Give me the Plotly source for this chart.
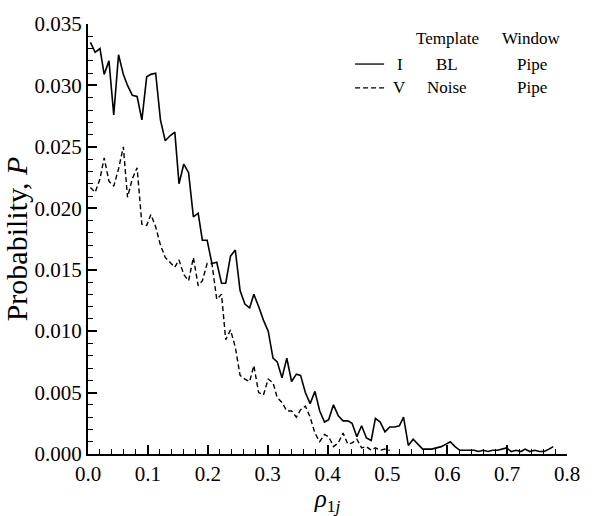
import plotly.graph_objects as go

# x positions (rho_1j bin centres)
rho = [0.004, 0.012, 0.020, 0.027, 0.035, 0.043, 0.051, 0.059, 0.066, 0.074,
       0.082, 0.090, 0.098, 0.105, 0.113, 0.121, 0.129, 0.137, 0.145, 0.152,
       0.160, 0.168, 0.176, 0.184, 0.191, 0.199, 0.207, 0.215, 0.223, 0.230,
       0.238, 0.246, 0.254, 0.262, 0.270, 0.277, 0.285, 0.293, 0.301, 0.309,
       0.316, 0.324, 0.332, 0.340, 0.348, 0.355, 0.363, 0.371, 0.379, 0.387,
       0.395, 0.402, 0.410, 0.418, 0.426, 0.434, 0.441, 0.449, 0.457, 0.465,
       0.473, 0.480, 0.488, 0.496, 0.504, 0.512, 0.520, 0.527, 0.535, 0.543,
       0.551, 0.559, 0.566, 0.574, 0.582, 0.590, 0.598, 0.605, 0.613, 0.621,
       0.629, 0.637, 0.645, 0.652, 0.660, 0.668, 0.676, 0.684, 0.691, 0.699,
       0.707, 0.715, 0.723, 0.730, 0.738, 0.746, 0.754, 0.762, 0.770, 0.777]

# Series I: Template BL, Window Pipe (solid)
p_bl = [0.0335, 0.0327, 0.0330, 0.0309, 0.0320, 0.0276, 0.0325, 0.0309, 0.0300, 0.0292,
        0.0291, 0.0272, 0.0307, 0.0309, 0.0310, 0.0272, 0.0255, 0.0259, 0.0262, 0.0220,
        0.0236, 0.0229, 0.0193, 0.0196, 0.0174, 0.0174, 0.0155, 0.0156, 0.0139, 0.0139,
        0.0161, 0.0166, 0.0133, 0.0122, 0.0119, 0.0130, 0.0120, 0.0109, 0.0100, 0.0078,
        0.0075, 0.0062, 0.0078, 0.0059, 0.0065, 0.0064, 0.0050, 0.0041, 0.0051, 0.0035,
        0.0026, 0.0028, 0.0040, 0.0031, 0.0027, 0.0027, 0.0025, 0.0014, 0.0023, 0.0013,
        0.0011, 0.0029, 0.0026, 0.0018, 0.0022, 0.0022, 0.0023, 0.0030, 0.0007, 0.0012,
        0.0008, 0.0004, 0.0004, 0.0004, 0.0005, 0.0006, 0.0008, 0.0010, 0.0006, 0.0003,
        0.0003, 0.0003, 0.0003, 0.0002, 0.0003, 0.0002, 0.0003, 0.0003, 0.0004, 0.0005,
        0.0002, 0.0003, 0.0002, 0.0004, 0.0002, 0.0003, 0.0002, 0.0002, 0.0004, 0.0006]

# Series V: Template Noise, Window Pipe (dashed)
p_noise = [0.0217, 0.0213, 0.0224, 0.0241, 0.0222, 0.0218, 0.0232, 0.0250, 0.0209, 0.0224,
           0.0233, 0.0187, 0.0186, 0.0195, 0.0185, 0.0170, 0.0160, 0.0156, 0.0152, 0.0158,
           0.0146, 0.0141, 0.0160, 0.0137, 0.0141, 0.0155, 0.0155, 0.0126, 0.0130, 0.0093,
           0.0101, 0.0087, 0.0064, 0.0061, 0.0059, 0.0072, 0.0050, 0.0048, 0.0061, 0.0058,
           0.0046, 0.0042, 0.0035, 0.0035, 0.0030, 0.0036, 0.0039, 0.0030, 0.0017, 0.0010,
           0.0016, 0.0014, 0.0006, 0.0009, 0.0017, 0.0008, 0.0009, 0.0012, 0.0005, 0.0006,
           0.0003, 0.0005, 0.0003, 0.0004, 0.0003]

x_ticks = [0.0, 0.1, 0.2, 0.3, 0.4, 0.5, 0.6, 0.7, 0.8]
y_ticks = [0.000, 0.005, 0.010, 0.015, 0.020, 0.025, 0.030, 0.035]

FONT = "Liberation Serif"
W, H = 592, 516
ML, MR, MT, MB = 84, 13, 15, 50

fig = go.Figure()
fig.add_trace(go.Scatter(x=rho, y=p_bl, mode="lines",
                         line=dict(color="black", width=1.6), showlegend=False))
fig.add_trace(go.Scatter(x=rho[:len(p_noise)], y=p_noise, mode="lines",
                         line=dict(color="black", width=1.4, dash="5px,3px"),
                         showlegend=False))

axis_common = dict(showline=True, linecolor="black", linewidth=2, mirror=False,
                   ticks="inside", tickcolor="black", tickwidth=2, ticklen=9,
                   showgrid=False, zeroline=False, ticklabeloverflow="allow",
                   tickfont=dict(family=FONT, size=21, color="black"))

fig.update_xaxes(range=[0, 0.8], tickvals=x_ticks, tickformat=".1f",
                 minor=dict(dtick=0.02, ticks="inside", ticklen=5, tickwidth=1,
                            tickcolor="black", showgrid=False),
                 title=dict(text="<i>ρ</i><sub>1<i>j</i></sub>",
                            font=dict(family=FONT, size=25, color="black"), standoff=0),
                 ticklabelstandoff=0,
                 **axis_common)
fig.update_yaxes(range=[0, 0.035], tickvals=y_ticks, tickformat=".3f",
                 minor=dict(dtick=0.001, ticks="inside", ticklen=5, tickwidth=1,
                            tickcolor="black", showgrid=False),
                 title=dict(text="Probability, <i>P</i>",
                            font=dict(family=FONT, size=30, color="black"), standoff=2),
                 **axis_common)

# legend table (top right), positioned in page pixels
lf = dict(family=FONT, size=17, color="black")
PW, PH = W - ML - MR, H - MT - MB

def px_to_paper(px, py):
    return (px - ML) / PW, (H - MB - py) / PH

def add_txt(cx, cy, t):
    x, y = px_to_paper(cx, cy)
    fig.add_annotation(x=x, y=y, xref="paper", yref="paper", text=t, showarrow=False,
                       font=lf, xanchor="center", yanchor="middle")

hdr_y, row1_y, row2_y = 30, 57, 82
add_txt(455, hdr_y, "Template")
add_txt(542, hdr_y, "Window")
for (lab, tmpl, win, yy) in [("I", "BL", "Pipe", row1_y), ("V", "Noise", "Pipe", row2_y)]:
    add_txt(406, yy, lab)
    add_txt(455, yy, tmpl)
    add_txt(543, yy, win)

x0, y1 = px_to_paper(360, row1_y)
x1, _ = px_to_paper(390, row1_y)
_, y2 = px_to_paper(360, row2_y)
fig.add_shape(type="line", xref="paper", yref="paper", x0=x0, x1=x1, y0=y1, y1=y1,
              line=dict(color="black", width=1.3))
fig.add_shape(type="line", xref="paper", yref="paper", x0=x0, x1=x1, y0=y2, y1=y2,
              line=dict(color="black", width=1.3, dash="5px,3px"))

fig.update_layout(width=W, height=H, margin=dict(l=ML, r=MR, t=MT, b=MB),
                  plot_bgcolor="white", paper_bgcolor="white",
                  font=dict(family=FONT, color="black"))

fig.write_html("out.html")
